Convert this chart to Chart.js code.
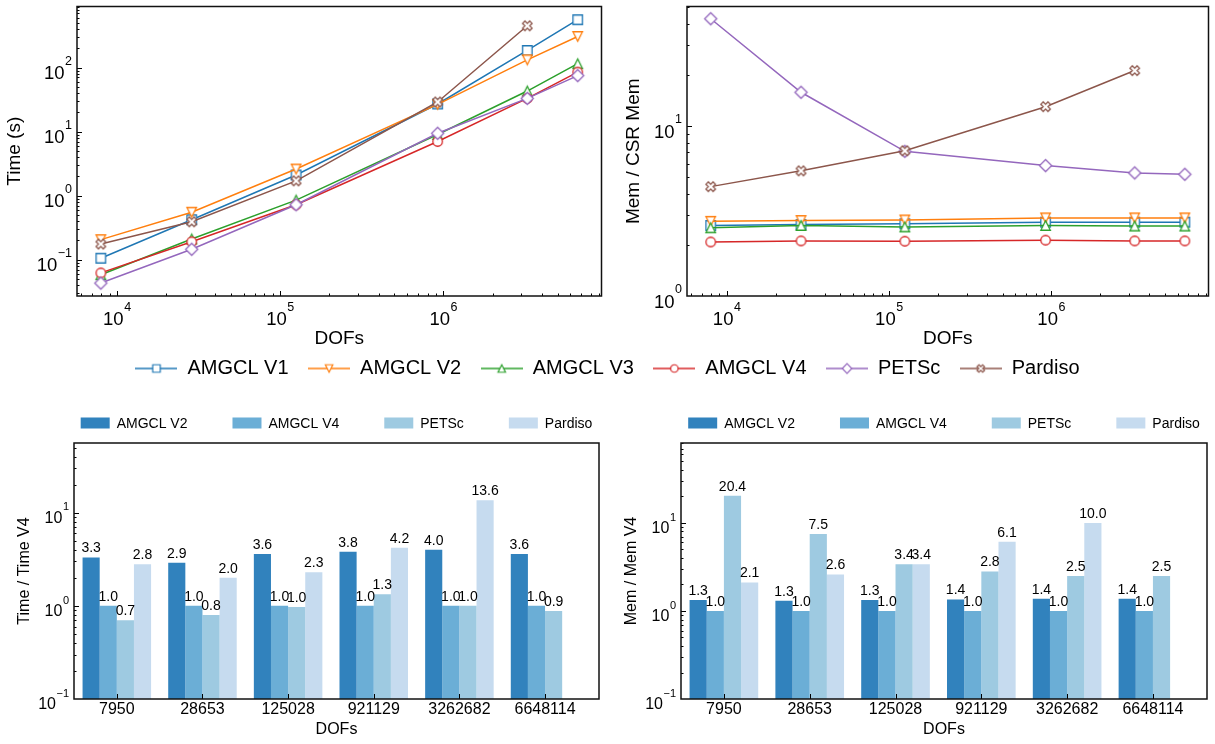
<!DOCTYPE html>
<html>
<head>
<meta charset="utf-8">
<script src="https://cdn.jsdelivr.net/npm/chart.js@4.4.0/dist/chart.umd.min.js"></script>
<style>
body { margin: 0; background: #fff; width: 1215px; height: 744px; position: relative; overflow: hidden; }
.box { position: absolute; }
</style>
</head>
<body>
<div class="box" style="left:0;top:0;width:608px;height:350px"><canvas id="timeChart"></canvas></div>
<div class="box" style="left:607px;top:0;width:608px;height:350px"><canvas id="memChart"></canvas></div>
<div class="box" style="left:0;top:339px;width:1215px;height:120px"><canvas id="legendChart"></canvas></div>
<div class="box" style="left:0;top:395px;width:608px;height:349px"><canvas id="timeRatioChart"></canvas></div>
<div class="box" style="left:607px;top:395px;width:608px;height:349px"><canvas id="memRatioChart"></canvas></div>
<script>
// problem sizes
var dofs = [7950, 28653, 125028, 921129, 3262682, 6648114];
var dofLabels = ["7950", "28653", "125028", "921129", "3262682", "6648114"];

// solve time (s)
var timeV1 = [0.105, 0.42, 2.1, 27, 185, 560];
var timeV2 = [0.205, 0.55, 2.6, 26.6, 132, 306];
var timeV3 = [0.058, 0.21, 0.85, 9.0, 43, 115];
var timeV4 = [0.062, 0.19, 0.72, 7.0, 33, 85];
var timePetsc = [0.043, 0.145, 0.72, 9.4, 33, 75];
var timePardiso = [0.175, 0.39, 1.7, 29, 450, null];

// memory relative to CSR matrix
var memV1 = [2.6, 2.63, 2.66, 2.72, 2.72, 2.72];
var memV2 = [2.75, 2.78, 2.8, 2.88, 2.88, 2.88];
var memV3 = [2.52, 2.6, 2.55, 2.6, 2.58, 2.58];
var memV4 = [2.08, 2.11, 2.1, 2.13, 2.11, 2.11];
var memPetsc = [42.8, 15.8, 7.1, 5.85, 5.3, 5.2];
var memPardiso = [4.4, 5.45, 7.15, 13.0, 21.2, null];

// ratios against AMGCL V4
var timeRatioV2 = [3.3, 2.9, 3.6, 3.8, 4.0, 3.6];
var timeRatioV4 = [1.0, 1.0, 1.0, 1.0, 1.0, 1.0];
var timeRatioPetsc = [0.7, 0.8, 0.97, 1.33, 1.0, 0.88];
var timeRatioPardiso = [2.8, 2.0, 2.3, 4.2, 13.6, null];

var memRatioV2 = [1.33, 1.31, 1.33, 1.35, 1.38, 1.38];
var memRatioV4 = [1.0, 1.0, 1.0, 1.0, 1.0, 1.0];
var memRatioPetsc = [20.4, 7.5, 3.4, 2.8, 2.5, 2.5];
var memRatioPardiso = [2.1, 2.6, 3.4, 6.1, 10.0, null];

var seriesNames = ["AMGCL V1", "AMGCL V2", "AMGCL V3", "AMGCL V4", "PETSc", "Pardiso"];
var seriesColors = ["#1f77b4", "#ff7f0e", "#2ca02c", "#d62728", "#9467bd", "#8c564b"];
var seriesMarkers = ["square", "triDown", "triUp", "circle", "diamond", "xFilled"];

var barNames = ["AMGCL V2", "AMGCL V4", "PETSc", "Pardiso"];
var barColors = ["#3182bd", "#6baed6", "#9ecae1", "#c6dbef"];

var FONT = '"Liberation Sans", Arial, Helvetica, sans-serif';
Chart.defaults.font.family = FONT;
Chart.defaults.color = "#000";
Chart.defaults.animation = false;

function isDecade(v)
{
    var l = Math.log10(v);
    return Math.abs(l - Math.round(l)) < 1e-6;
}

function logTickValues(min, max)
{
    var out = [];
    for (var e = Math.floor(Math.log10(min)); e <= Math.ceil(Math.log10(max)); e++)
    {
        for (var m = 1; m <= 9; m++)
        {
            var v = parseFloat((m * Math.pow(10, e)).toPrecision(6));
            if (v >= min * 0.9999 && v <= max * 1.0001) out.push(v);
        }
    }
    return out;
}

function drawMarker(g, kind, cx, cy, ms, color, lw)
{
    var h = ms / 2;
    g.beginPath();
    if (kind == "square") g.rect(cx - h, cy - h, ms, ms);
    else if (kind == "circle") g.arc(cx, cy, h, 0, 2 * Math.PI);
    else if (kind == "diamond")
    {
        var d = ms * 0.64;
        g.moveTo(cx, cy - d); g.lineTo(cx + d, cy); g.lineTo(cx, cy + d); g.lineTo(cx - d, cy); g.closePath();
    }
    else if (kind == "triDown")
    {
        g.moveTo(cx - h, cy - h); g.lineTo(cx + h, cy - h); g.lineTo(cx, cy + h); g.closePath();
    }
    else if (kind == "triUp")
    {
        g.moveTo(cx - h, cy + h); g.lineTo(cx + h, cy + h); g.lineTo(cx, cy - h); g.closePath();
    }
    else
    {
        var pts = [[-1, -2], [0, -1], [1, -2], [2, -1], [1, 0], [2, 1], [1, 2], [0, 1], [-1, 2], [-2, 1], [-1, 0], [-2, -1]];
        pts.forEach(function (p, i) {
            var x = cx + p[0] * ms / 4, y = cy + p[1] * ms / 4;
            if (i == 0) g.moveTo(x, y); else g.lineTo(x, y);
        });
        g.closePath();
    }
    g.fillStyle = "#fff";
    g.fill();
    g.strokeStyle = color;
    g.lineWidth = lw;
    g.stroke();
}

function markerImage(kind, color, ms)
{
    var c = document.createElement("canvas");
    var s = Math.ceil(ms * 1.5) + 4;
    c.width = s; c.height = s;
    drawMarker(c.getContext("2d"), kind, s / 2, s / 2, ms, color, 1.3);
    return c;
}

function legendIcon(kind, color)
{
    var c = document.createElement("canvas");
    c.width = 42; c.height = 14;
    var g = c.getContext("2d");
    g.strokeStyle = color;
    g.lineWidth = 1.5;
    g.beginPath(); g.moveTo(0, 7); g.lineTo(42, 7); g.stroke();
    drawMarker(g, kind, 21, 7, 7.5, color, 1.2);
    return c;
}

function lineDatasets(seriesList)
{
    return seriesList.map(function (ys, i) {
        var pts = [];
        ys.forEach(function (y, j) { if (y != null) pts.push({x: dofs[j], y: y}); });
        return {
            label: seriesNames[i],
            data: pts,
            borderColor: seriesColors[i],
            borderWidth: 1.5,
            pointStyle: markerImage(seriesMarkers[i], seriesColors[i], 9.5),
            pointRadius: 5,
            pointHoverRadius: 5,
            fill: false,
            tension: 0,
            order: seriesList.length - i
        };
    });
}

function barDatasets(seriesList)
{
    return seriesList.map(function (ys, i) {
        var pts = [];
        ys.forEach(function (y, j) { if (y != null) pts.push({x: j, y: y}); });
        return {
            label: barNames[i],
            data: pts,
            backgroundColor: barColors[i],
            borderWidth: 0,
            categoryPercentage: 0.8,
            barPercentage: 1.0
        };
    });
}

// frame round the plot area plus inward tick marks
var frameTicks = {
    id: "frameTicks",
    afterDraw: function (chart) {
        var ctx = chart.ctx, a = chart.chartArea;
        var xs = chart.scales.x, ys = chart.scales.y;
        function major(scale, t) { return scale.type == "logarithmic" ? isDecade(t.value) : true; }
        ctx.save();
        ctx.strokeStyle = "#000";
        ctx.lineWidth = 1;
        ctx.beginPath();
        xs.ticks.forEach(function (t) {
            var px = Math.round(xs.getPixelForValue(t.value)) + 0.5;
            if (px < a.left || px > a.right) return;
            var len = major(xs, t) ? 5 : 2.5;
            ctx.moveTo(px, a.bottom); ctx.lineTo(px, a.bottom - len);
        });
        ys.ticks.forEach(function (t) {
            var py = Math.round(ys.getPixelForValue(t.value)) + 0.5;
            if (py < a.top || py > a.bottom) return;
            var len = major(ys, t) ? 5 : 2.5;
            ctx.moveTo(a.left, py); ctx.lineTo(a.left + len, py);
        });
        ctx.stroke();
        ctx.lineWidth = 1.5;
        ctx.strokeStyle = "#111";
        ctx.strokeRect(a.left, a.top, a.right - a.left, a.bottom - a.top);
        ctx.restore();
    }
};

// "10" with a raised exponent at every decade of the log axes
var logLabels = {
    id: "logLabels",
    afterDraw: function (chart, args, o) {
        var ctx = chart.ctx, a = chart.chartArea;
        var cap = o.size * 0.716, capSup = o.supSize * 0.716;
        var lift = cap + 1;
        function draw(v, x, base, align) {
            var e = String(Math.round(Math.log10(v))).replace("-", "\u2212");
            ctx.font = o.size + "px " + FONT;
            var w1 = ctx.measureText("10").width;
            ctx.font = o.supSize + "px " + FONT;
            var w2 = ctx.measureText(e).width;
            var total = w1 + 0.5 + w2;
            var left = align == "center" ? x - total / 2 : x - total;
            ctx.font = o.size + "px " + FONT;
            ctx.fillText("10", left, base);
            ctx.font = o.supSize + "px " + FONT;
            ctx.fillText(e, left + w1 + 0.5, base - lift);
        }
        ctx.save();
        ctx.fillStyle = "#000";
        ctx.textAlign = "left";
        ctx.textBaseline = "alphabetic";
        o.axes.forEach(function (id) {
            var s = chart.scales[id];
            s.ticks.forEach(function (t) {
                if (!isDecade(t.value)) return;
                if (s.isHorizontal())
                {
                    var px = s.getPixelForValue(t.value);
                    draw(t.value, px, a.bottom + o.xPad + lift + capSup, "center");
                }
                else
                {
                    var py = s.getPixelForValue(t.value);
                    draw(t.value, a.left - o.yPad, py + (lift + capSup) / 2, "right");
                }
            });
        });
        ctx.restore();
    }
};

// numbers above the bars
var barValues = {
    id: "barValues",
    afterDatasetsDraw: function (chart) {
        var ctx = chart.ctx;
        ctx.save();
        ctx.font = "14px " + FONT;
        ctx.fillStyle = "#000";
        ctx.textAlign = "center";
        ctx.textBaseline = "bottom";
        chart.data.datasets.forEach(function (ds, i) {
            chart.getDatasetMeta(i).data.forEach(function (bar, j) {
                ctx.fillText(ds.data[j].y.toFixed(1), bar.x, bar.y - 2);
            });
        });
        ctx.restore();
    }
};

// row of colour boxes above the bar plots
var barLegend = {
    id: "barLegend",
    afterDraw: function (chart) {
        var ctx = chart.ctx, a = chart.chartArea;
        var boxW = 29, boxH = 11, gap = 7, spacing = 45;
        ctx.save();
        ctx.font = "14px " + FONT;
        var total = 0;
        chart.data.datasets.forEach(function (ds, i) {
            total += boxW + gap + ctx.measureText(ds.label).width + (i ? spacing : 0);
        });
        var x = (a.left + a.right) / 2 - total / 2;
        var y = a.top - 20;
        ctx.textBaseline = "middle";
        chart.data.datasets.forEach(function (ds) {
            ctx.fillStyle = ds.backgroundColor;
            ctx.fillRect(x, y - boxH / 2, boxW, boxH);
            ctx.fillStyle = "#000";
            ctx.fillText(ds.label, x + boxW + gap, y + 1);
            x += boxW + gap + ctx.measureText(ds.label).width + spacing;
        });
        ctx.restore();
    }
};

function logAxis(min, max, opts)
{
    return {
        type: "logarithmic",
        min: min,
        max: max,
        grid: {display: false, drawTicks: false},
        border: {display: false},
        afterBuildTicks: function (scale) {
            scale.ticks = logTickValues(min, max).map(function (v) { return {value: v}; });
        },
        afterFit: function (scale) {
            if (opts.width) scale.width = opts.width;
            if (opts.height) scale.height = opts.height;
        },
        ticks: {display: false, autoSkip: false},
        title: {display: true, text: opts.title, font: {size: opts.titleSize, lineHeight: 1}, padding: opts.titlePad}
    };
}

function makeLineChart(id, seriesList, yMin, yMax, yTitle, yAxisWidth, yTitlePad, rightPad)
{
    return new Chart(document.getElementById(id), {
        type: "line",
        data: {datasets: lineDatasets(seriesList)},
        options: {
            responsive: true,
            maintainAspectRatio: false,
            layout: {padding: {left: 0, top: 5, right: rightPad, bottom: 0}},
            scales: {
                x: logAxis(5680, 9.3e6, {height: 54, title: "DOFs", titleSize: 19, titlePad: {top: 0, bottom: 1.5}}),
                y: logAxis(yMin, yMax, {width: yAxisWidth, title: yTitle, titleSize: 19, titlePad: {top: yTitlePad, bottom: 0}})
            },
            plugins: {
                legend: {display: false},
                tooltip: {enabled: false},
                logLabels: {axes: ["x", "y"], size: 18.5, supSize: 12.5, xPad: 6, yPad: 5}
            }
        },
        plugins: [frameTicks, logLabels]
    });
}

function makeBarChart(id, seriesList, yMax, yTitle, yTitlePad, rightPad)
{
    return new Chart(document.getElementById(id), {
        type: "bar",
        data: {datasets: barDatasets(seriesList)},
        options: {
            responsive: true,
            maintainAspectRatio: false,
            layout: {padding: {left: 0, top: 48, right: rightPad, bottom: 0}},
            scales: {
                x: {
                    type: "linear",
                    min: -0.5,
                    max: 5.63,
                    offset: false,
                    grid: {display: false, drawTicks: false},
                    border: {display: false},
                    afterBuildTicks: function (scale) {
                        scale.ticks = dofLabels.map(function (l, i) { return {value: i}; });
                    },
                    afterFit: function (scale) { scale.height = 45; },
                    ticks: {
                        autoSkip: false,
                        maxRotation: 0,
                        padding: 1,
                        font: {size: 16},
                        callback: function (v) { return dofLabels[v]; }
                    },
                    title: {display: true, text: "DOFs", font: {size: 16, lineHeight: 1}, padding: {top: 0, bottom: 6}}
                },
                y: logAxis(0.1, yMax, {width: 74, title: yTitle, titleSize: 16, titlePad: {top: yTitlePad, bottom: 0}})
            },
            plugins: {
                legend: {display: false},
                tooltip: {enabled: false},
                logLabels: {axes: ["y"], size: 16, supSize: 11, xPad: 4, yPad: 5}
            }
        },
        plugins: [barValues, frameTicks, logLabels, barLegend]
    });
}

makeLineChart("timeChart", [timeV1, timeV2, timeV3, timeV4, timePetsc, timePardiso], 0.027, 900, "Time (s)", 77, 5.5, 3);
makeLineChart("memChart", [memV1, memV2, memV3, memV4, memPetsc, memPardiso], 1, 50.5, "Mem / CSR Mem", 80, 17.5, 1.5);

// shared legend for the two line plots
new Chart(document.getElementById("legendChart"), {
    type: "line",
    data: {
        datasets: seriesNames.map(function (name, i) {
            return {label: name, data: [], borderColor: seriesColors[i]};
        })
    },
    options: {
        responsive: true,
        maintainAspectRatio: false,
        layout: {padding: 0},
        scales: {x: {display: false}, y: {display: false}},
        plugins: {
            tooltip: {enabled: false},
            legend: {
                display: true,
                position: "top",
                maxHeight: 100,
                labels: {
                    usePointStyle: true,
                    pointStyleWidth: 42,
                    padding: 19.5,
                    color: "#000",
                    font: {size: 20},
                    generateLabels: function (chart) {
                        return chart.data.datasets.map(function (ds, i) {
                            return {
                                text: ds.label,
                                pointStyle: legendIcon(seriesMarkers[i], seriesColors[i]),
                                fillStyle: "#fff",
                                strokeStyle: seriesColors[i],
                                lineWidth: 0,
                                fontColor: "#000",
                                hidden: false,
                                datasetIndex: i
                            };
                        });
                    }
                }
            }
        }
    }
});

makeBarChart("timeRatioChart", [timeRatioV2, timeRatioV4, timeRatioPetsc, timeRatioPardiso], 56, "Time / Time V4", 17, 9);
makeBarChart("memRatioChart", [memRatioV2, memRatioV4, memRatioPetsc, memRatioPardiso], 81, "Mem / Mem V4", 17, 8);
</script>
</body>
</html>
